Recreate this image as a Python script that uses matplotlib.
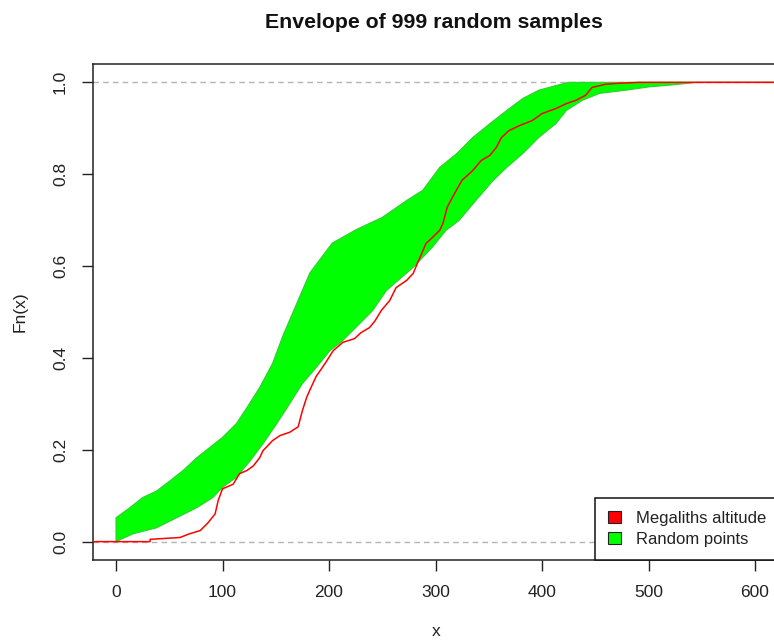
import matplotlib
matplotlib.use("Agg")
import matplotlib.pyplot as plt
from matplotlib.patches import Polygon, Patch

plt.rcParams['font.family'] = ['Liberation Sans', 'DejaVu Sans']

# ---- data ----
title = "Envelope of 999 random samples"
legend_labels = ["Megaliths altitude", "Random points"]
x_ticks = [0, 100, 200, 300, 400, 500, 600]
y_ticks = [0.0, 0.2, 0.4, 0.6, 0.8, 1.0]

red_x = [32, 32, 60, 69, 79, 86, 93, 96, 100, 110, 116, 123, 129, 135, 138, 147, 154,
         163, 171, 175, 179, 182, 188, 194, 198, 204, 213, 224, 230, 238, 243, 249,
         257, 263, 273, 279, 283, 287, 291, 297, 304, 307, 311, 316, 321, 325, 335,
         343, 351, 357, 362, 369, 379, 391, 400, 413, 423, 432, 441, 447, 460, 472, 491]
red_y = [0.000, 0.005, 0.009, 0.017, 0.024, 0.040, 0.060, 0.090, 0.115, 0.125, 0.148, 0.155,
         0.165, 0.183, 0.198, 0.220, 0.231, 0.238, 0.250, 0.285, 0.314, 0.330, 0.360,
         0.380, 0.394, 0.416, 0.434, 0.442, 0.455, 0.466, 0.480, 0.503, 0.525, 0.553,
         0.569, 0.584, 0.606, 0.627, 0.649, 0.662, 0.678, 0.693, 0.728, 0.750, 0.771,
         0.787, 0.808, 0.830, 0.841, 0.858, 0.880, 0.895, 0.906, 0.917, 0.932, 0.943,
         0.954, 0.961, 0.972, 0.989, 0.996, 0.998, 1.000]

# envelope of the random-sample ECDFs (upper / lower boundaries)
up_x = [0, 0, 13, 25, 38, 51, 63, 76, 88, 100, 113, 123, 135, 147, 157, 170, 182, 203,
        226, 250, 273, 288, 304, 320, 335, 351, 367, 382, 397, 413, 425]
up_y = [0.0, 0.052, 0.074, 0.096, 0.110, 0.133, 0.155, 0.183, 0.205, 0.227, 0.257, 0.292,
        0.336, 0.388, 0.450, 0.520, 0.585, 0.650, 0.680, 0.706, 0.743, 0.765, 0.815,
        0.845, 0.880, 0.910, 0.939, 0.965, 0.983, 0.993, 1.000]
lo_x = [0, 16, 38, 57, 76, 91, 100, 113, 126, 138, 151, 163, 175, 188, 201, 213, 229,
        241, 254, 279, 297, 310, 322, 338, 354, 367, 382, 397, 413, 423, 438, 454,
        479, 500, 525, 545]
lo_y = [0.0, 0.017, 0.030, 0.052, 0.074, 0.096, 0.118, 0.140, 0.176, 0.213, 0.257,
        0.300, 0.344, 0.379, 0.416, 0.438, 0.475, 0.503, 0.547, 0.597, 0.641, 0.678,
        0.699, 0.743, 0.786, 0.815, 0.845, 0.880, 0.910, 0.939, 0.961, 0.976, 0.983,
        0.990, 0.995, 1.000]

# ---- figure ----
W, H = 774, 643
fig = plt.figure(figsize=(W / 100, H / 100), dpi=100)
ax_l, ax_r, ax_t, ax_b = 93, 780, 64, 560
ax = fig.add_axes([ax_l / W, (H - ax_b) / H, (ax_r - ax_l) / W, (ax_b - ax_t) / H])

x0_px, x600_px = 116, 755
ppu = (x600_px - x0_px) / 600.0
xmin = (ax_l - x0_px) / ppu
xmax = (ax_r - x0_px) / ppu
ax.set_xlim(xmin, xmax)
ax.set_ylim(-0.04, 1.04)

# reference lines
ax.axhline(0, color='#b3b3b3', lw=1, ls=(0, (4, 3)), zorder=1)
ax.axhline(1, color='#b3b3b3', lw=1, ls=(0, (4, 3)), zorder=1)

# green envelope
ux = up_x + [xmax]
uy = up_y + [1.0]
lx = lo_x + [xmax]
ly = lo_y + [1.0]
verts = list(zip(ux, uy)) + list(zip(lx[::-1], ly[::-1]))
ax.add_patch(Polygon(verts, closed=True, facecolor='#00ff00', edgecolor='none', zorder=2))
ax.plot(ux, uy, color='#33cc33', lw=0.8, zorder=3)
ax.plot(lx, ly, color='#33cc33', lw=0.8, zorder=3)

# observed ECDF
rx = [xmin] + red_x + [xmax]
ry = [0.0] + red_y + [1.0]
ax.plot(rx, ry, color='#ff0000', lw=1.1, zorder=4)

# axes styling
for s in ax.spines.values():
    s.set_color('#222222')
    s.set_linewidth(1.1)
ax.set_xticks(x_ticks)
ax.set_yticks(y_ticks)
ax.set_yticklabels([f"{v:.1f}" for v in y_ticks], rotation=90, va='center')
ax.tick_params(axis='both', length=8, width=1, color='#222222', labelsize=12.5,
               labelcolor='#222222')
ax.tick_params(axis='x', pad=10)
ax.tick_params(axis='y', pad=10)

fig.text(434 / W, 1 - 22 / H, title, ha='center', va='center', fontsize=15.3,
         fontweight='bold', color='#111111')
fig.text(436 / W, 1 - 632 / H, "x", ha='center', va='center', fontsize=12.5, color='#222222')
fig.text(20 / W, 1 - 312 / H, "Fn(x)", ha='center', va='center', fontsize=12.5,
         rotation=90, color='#222222')

handles = [Patch(facecolor='#ff0000', edgecolor='#222222', lw=0.8),
           Patch(facecolor='#00ff00', edgecolor='#222222', lw=0.8)]
leg = ax.legend(handles, legend_labels, loc='lower right', borderaxespad=0,
                fontsize=12, frameon=True, fancybox=False, framealpha=1,
                handlelength=0.8, handleheight=0.7, handletextpad=0.9,
                labelspacing=0.35, borderpad=0.8)
leg.get_frame().set_edgecolor('#111111')
leg.get_frame().set_linewidth(1.1)
for t in leg.get_texts():
    t.set_color('#222222')

fig.savefig("out.png", dpi=100)
